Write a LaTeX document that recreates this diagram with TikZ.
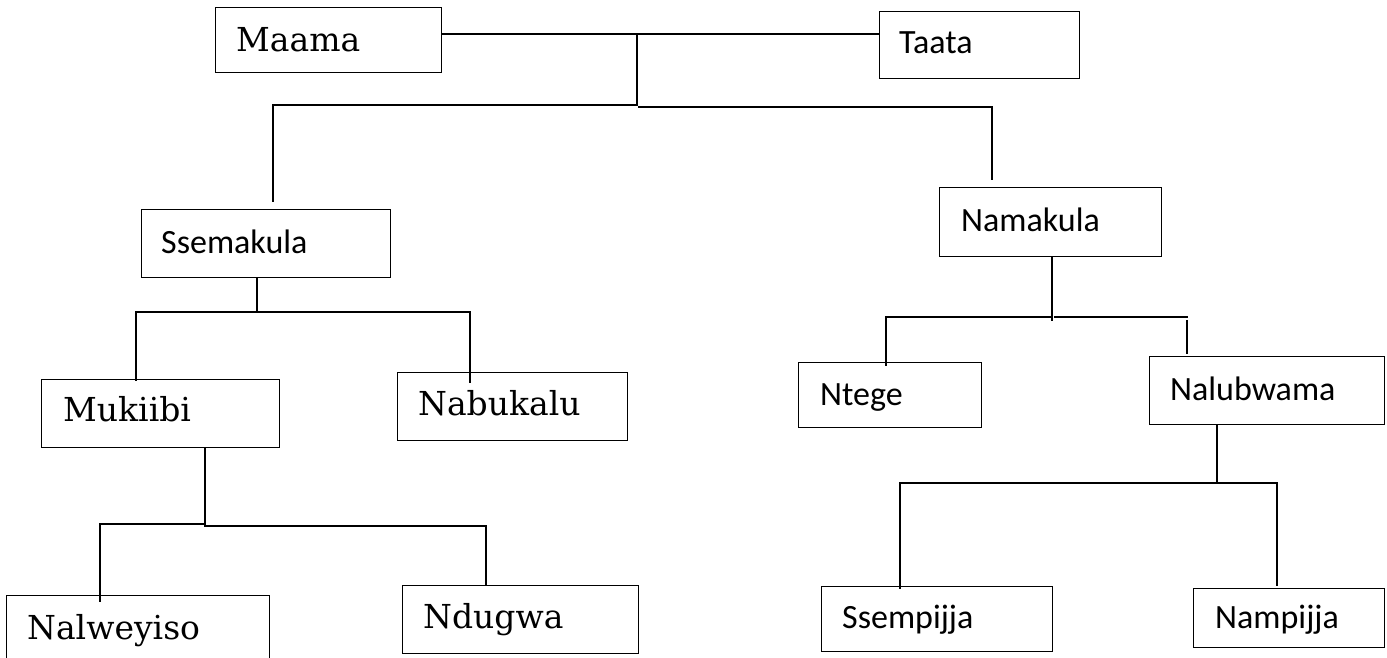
\documentclass[tikz,border=0pt]{standalone}
\usepackage{fontspec}
\setmainfont{DejaVu Serif}
\newfontfamily\sansf{Carlito}
\usetikzlibrary{calc}
\tikzset{
  box/.style={draw, line width=1.3pt, inner sep=0pt, anchor=north west},
  serlab/.style={anchor=base west, inner sep=0pt, font=\fontsize{33}{40}\selectfont},
  sanlab/.style={anchor=base west, inner sep=0pt, font=\sansf\fontsize{34}{40}\selectfont},
  conn/.style={line width=1.3pt, line cap=rect}
}
\begin{document}
\begin{tikzpicture}[x=1pt,y=-1pt]
\clip (0,0) rectangle (1387,658);
\fill[white] (0,0) rectangle (1387,658);
% boxes
\node[box, minimum width=226pt, minimum height=65pt] (maama) at (215,7) {};
\node[box, minimum width=200pt, minimum height=67pt] (taata) at (879,11) {};
\node[box, minimum width=249pt, minimum height=68pt] (ssem) at (141,209) {};
\node[box, minimum width=222pt, minimum height=69pt] (nama) at (939,187) {};
\node[box, minimum width=238pt, minimum height=68pt] (muk) at (41,379) {};
\node[box, minimum width=230pt, minimum height=68pt] (nabu) at (397,372) {};
\node[box, minimum width=183pt, minimum height=65pt] (ntege) at (798,362) {};
\node[box, minimum width=235pt, minimum height=68pt] (nalu) at (1149,356) {};
\node[box, minimum width=263pt, minimum height=80pt] (nalw) at (6,595) {};
\node[box, minimum width=236pt, minimum height=68pt] (ndug) at (402,585) {};
\node[box, minimum width=231pt, minimum height=65pt] (ssemp) at (821,586) {};
\node[box, minimum width=191pt, minimum height=59pt] (namp) at (1193,588) {};
% labels
\node[serlab] (tmaama) at (236,52) {Maama};
\node[sanlab] (ttaata) at (899,54) {Taata};
\node[sanlab] (tssem) at (161,253) {Ssemakula};
\node[sanlab] (tnama) at (961,231) {Namakula};
\node[serlab] (tmuk) at (63,421) {Mukiibi};
\node[serlab] (tnabu) at (418,415) {Nabukalu};
\node[sanlab] (tntege) at (820,405) {Ntege};
\node[sanlab] (tnalu) at (1170,400) {Nalubwama};
\node[serlab] (tnalw) at (27,639) {Nalweyiso};
\node[serlab] (tndug) at (423,628) {Ndugwa};
\node[sanlab] (tssemp) at (842,628) {Ssempijja};
\node[sanlab] (tnamp) at (1215,628) {Nampijja};
% junction coordinates
\coordinate (j0) at (637,34);
\coordinate (j1) at (637,105);
\coordinate (jl) at (273,105);
\coordinate (jr) at (992,107);
\coordinate (s0) at (257,312);
\coordinate (sl) at (136,312);
\coordinate (sr) at (470,312);
\coordinate (m0) at (205,525);
\coordinate (ml) at (100,524);
\coordinate (mr) at (486,526);
\coordinate (n0) at (1052,317);
\coordinate (nl) at (886,317);
\coordinate (nr) at (1187,317);
\coordinate (b0) at (1217,483);
\coordinate (bl) at (900,483);
\coordinate (br) at (1277,483);
% connectors: parents
\draw[conn] (maama.east |- j0) -- (taata.west |- j0);
\draw[conn] (j0) -- (j1) -- (jl) -- ($(ssem.north -| jl)+(0,-8)$);
\draw[conn] ($(j1)+(2,2)$) -- (jr) -- ($(nama.north -| jr)+(0,-8)$);
% Ssemakula
\draw[conn] (ssem.south -| s0) -- (s0);
\draw[conn] (sl) -- (sr);
\draw[conn] (sl) -- ($(muk.north -| sl)+(0,1)$);
\draw[conn] (sr) -- ($(nabu.north -| sr)+(0,10)$);
% Mukiibi
\draw[conn] (muk.south -| m0) -- (m0);
\draw[conn] (ml) -- ($(m0)+(0,-1)$);
\draw[conn] ($(m0)+(0,1)$) -- (mr);
\draw[conn] (ml) -- ($(nalw.north -| ml)+(0,6)$);
\draw[conn] (mr) -- (ndug.north -| mr);
% Namakula
\draw[conn] (nama.south -| n0) -- ($(n0)+(0,3)$);
\draw[conn] (nl) -- (n0);
\draw[conn] ($(n0)+(3,0)$) -- (nr);
\draw[conn] (nl) -- ($(ntege.north -| nl)+(0,3)$);
\draw[conn] ($(nr)+(0,4)$) -- ($(nalu.north -| nr)+(0,-3)$);
% Nalubwama
\draw[conn] (nalu.south -| b0) -- (b0);
\draw[conn] (bl) -- (br);
\draw[conn] (bl) -- ($(ssemp.north -| bl)+(0,2)$);
\draw[conn] (br) -- ($(namp.north -| br)+(0,-3)$);
\end{tikzpicture}
\end{document}
